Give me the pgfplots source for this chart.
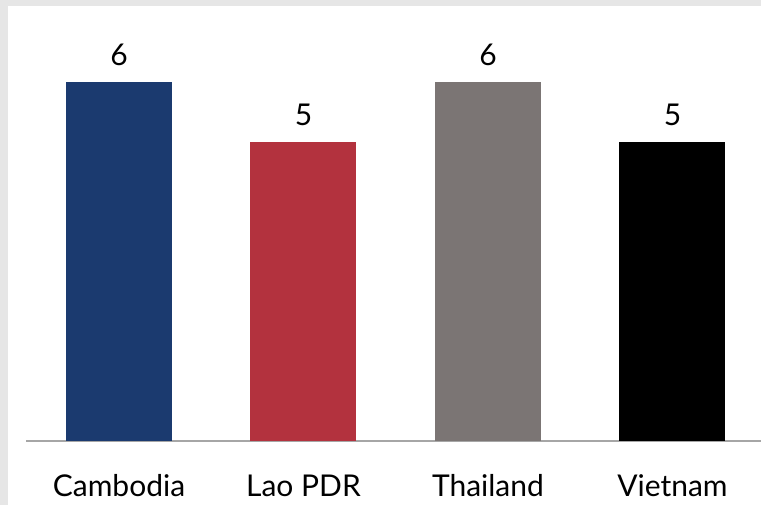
\documentclass[border=0pt]{standalone}
\usepackage{fontspec}
\setmainfont{Lato}
\usepackage{pgfplots}
\pgfplotsset{compat=1.18}
\definecolor{bgframe}{HTML}{E6E6E6}
\definecolor{cambodia}{HTML}{1B3A6F}
\definecolor{lao}{HTML}{B3323E}
\definecolor{thai}{HTML}{7B7574}
\definecolor{baseline}{HTML}{A6A6A6}
\begin{document}
\begin{tikzpicture}[x=1pt,y=1pt]
\fill[bgframe] (0,0) rectangle (761,505);
\fill[white] (8,0) rectangle (761,499);
\begin{axis}[
  at={(26pt,64pt)}, anchor=south west,
  scale only axis, width=735pt, height=418.6pt,
  xmin=-0.504, xmax=3.48, ymin=0, ymax=7,
  axis x line=bottom, axis y line=none,
  x axis line style={-, draw=baseline, line width=1.3pt},
  xtick={0,1,2,3},
  xticklabels={Cambodia, Lao PDR, Thailand, Vietnam},
  major tick length=0pt,
  xticklabel style={font=\fontsize{30}{35}\selectfont, anchor=base, yshift=-56pt, inner sep=0pt},
  ybar, bar width=106pt, bar shift=0pt,
  /pgf/number format/assume math mode=true,
  nodes near coords,
  nodes near coords style={font=\fontsize{30}{35}\selectfont, text=black, anchor=south, inner sep=0pt, yshift=16pt},
  clip=false,
]
\addplot[fill=cambodia, draw=none] coordinates {(0,6)};
\addplot[fill=lao, draw=none] coordinates {(1,5)};
\addplot[fill=thai, draw=none] coordinates {(2,6)};
\addplot[fill=black, draw=none] coordinates {(3,5)};
\end{axis}
\pgfresetboundingbox
\useasboundingbox (0,0) rectangle (761,505);
\end{tikzpicture}
\end{document}
